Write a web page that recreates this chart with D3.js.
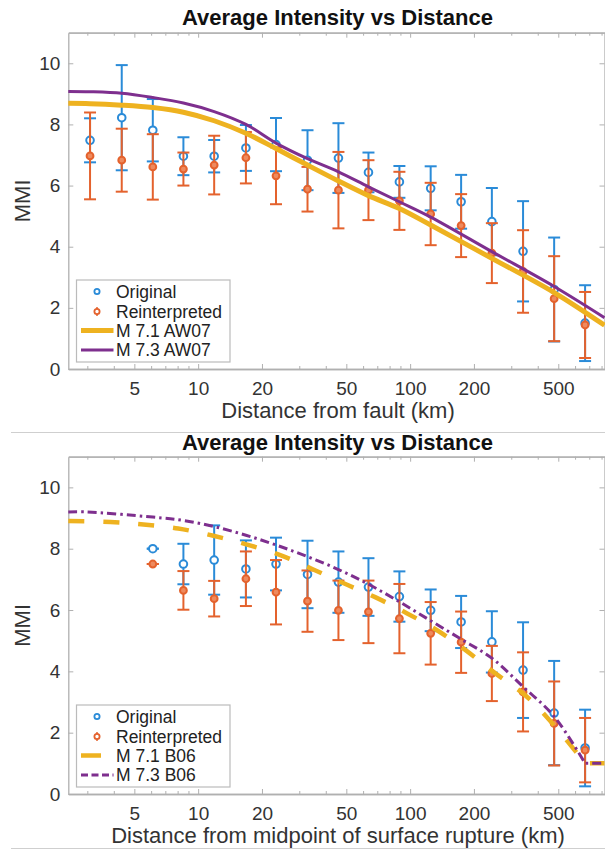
<!DOCTYPE html>
<html>
<head>
<meta charset="utf-8">
<script src="https://cdn.jsdelivr.net/npm/d3@7"></script>
<style>
  body { margin: 0; background: #fff; }
  svg { display: block; font-family: "Liberation Sans", Arial, Helvetica, sans-serif; }
</style>
</head>
<body>
<svg id="chart" width="605" height="850"></svg>
<script>
// distance bins (km), shared by both panels
const binKm = [3.09, 4.36, 6.11, 8.52, 11.9, 16.8, 23.3, 32.8, 45.9, 63.6, 89.0, 125, 174, 243, 341, 478, 669];

// top panel: distance from fault
const origMmi1 = [7.48, 8.22, 7.81, 6.96, 6.96, 7.23, 7.34, 6.83, 6.90, 6.43, 6.12, 5.91, 5.47, 4.82, 3.85, 2.60, 1.50];
const origErr1 = [0.72, 1.72, 1.02, 0.62, 0.53, 0.75, 0.87, 0.98, 1.14, 0.65, 0.52, 0.72, 0.88, 1.10, 1.64, 1.70, 1.24];
const reintMmi1 = [6.97, 6.83, 6.61, 6.54, 6.67, 6.91, 6.32, 5.88, 5.85, 5.85, 5.50, 5.07, 4.69, 3.79, 3.19, 2.30, 1.44];
const reintErr1 = [1.42, 1.03, 1.07, 0.54, 0.96, 0.84, 0.93, 0.73, 1.25, 0.98, 0.95, 1.02, 1.03, 0.98, 1.35, 1.39, 1.08];

// AW07 curves
const awKm = [2.44, 3.09, 4.36, 6.11, 8.52, 11.9, 16.8, 23.3, 32.8, 45.9, 63.6, 89, 125, 243, 478, 826];
const aw71Mmi = [8.69, 8.68, 8.63, 8.55, 8.40, 8.12, 7.71, 7.21, 6.67, 6.15, 5.67, 5.25, 4.71, 3.62, 2.50, 1.43];
const aw73Mmi = [9.08, 9.07, 9.02, 8.88, 8.70, 8.42, 8.00, 7.39, 6.88, 6.45, 5.96, 5.47, 4.97, 3.84, 2.70, 1.68];

// bottom panel: distance from midpoint of rupture (bins 3..17)
const binKm2 = binKm.slice(2);
const origMmi2 = [8.00, 7.50, 7.63, 7.34, 7.50, 7.16, 6.91, 6.75, 6.44, 5.99, 5.61, 4.96, 4.04, 2.64, 1.50];
const origErr2 = [0, 0.66, 1.13, 0.93, 0.86, 1.10, 1.00, 0.94, 0.82, 0.68, 0.85, 1.00, 1.56, 1.70, 1.25];
const reintMmi2 = [7.50, 6.64, 6.37, 7.02, 6.58, 6.29, 5.99, 5.94, 5.72, 5.24, 4.95, 3.93, 3.33, 2.30, 1.43];
const reintErr2 = [0, 0.63, 0.58, 0.89, 1.05, 1.00, 0.97, 1.02, 1.13, 1.02, 1.00, 0.90, 1.29, 1.37, 1.05];

// B06 curves (flat at MMI 1 past the last point)
const b71Km = [2.44, 3.85, 5.52, 8.05, 11.8, 16.7, 24.4, 34.5, 48.3, 68.4, 96.8, 134, 182, 246, 349, 483, 669];
const b71Mmi = [8.90, 8.87, 8.79, 8.66, 8.42, 8.15, 7.79, 7.34, 6.88, 6.42, 5.89, 5.34, 4.70, 3.99, 3.22, 2.20, 1.0];
const b73Km = [2.44, 2.93, 6.11, 8.52, 11.9, 16.8, 23.3, 32.8, 45.9, 63.6, 89, 125, 174, 243, 341, 478, 669];
const b73Mmi = [9.20, 9.20, 9.03, 8.92, 8.72, 8.44, 8.12, 7.74, 7.32, 6.84, 6.27, 5.65, 5.05, 4.43, 3.50, 2.53, 1.0];
const floorMmi = 1.0;

// ticks
const yTicks = [0, 2, 4, 6, 8, 10];
const xTickLabels = [5, 10, 20, 50, 100, 200, 500];
const xMinor = [3, 4, 6, 7, 8, 9, 30, 40, 60, 70, 80, 90, 300, 400, 600, 700, 800];

const FONT = '"Liberation Sans", Arial, Helvetica, sans-serif';
const colors = { orig: "#2a8bd8", reint: "#e4622d", m71: "#eeb220", m73: "#7e2f8e" };
const axisColor = "#b0b0b0";

const svg = d3.select("#chart");
const x = d3.scaleLog().domain([2.44, 826]).range([68.3, 604.5]);
const [xl, xr] = x.range();

function styleAxis(sel) {
  sel.attr("font-family", FONT);
  sel.select(".domain").attr("stroke", axisColor).attr("stroke-width", 1.3);
  sel.selectAll(".tick line").attr("stroke", axisColor).attr("stroke-width", 1);
  sel.selectAll(".tick text").attr("fill", "#333").attr("font-size", 19);
}

function errorBars(g, y, km, mmi, err, color, isOrig) {
  const rows = d3.zip(km, mmi, err);
  const grp = g.append("g").attr("stroke", color).attr("stroke-width", 2).attr("fill", "none");
  const bar = grp.selectAll("g").data(rows).join("g");
  bar.append("line")
    .attr("x1", d => x(d[0])).attr("x2", d => x(d[0]))
    .attr("y1", d => y(d[1] - d[2])).attr("y2", d => y(d[1] + d[2]));
  bar.append("line")
    .attr("x1", d => x(d[0]) - 6).attr("x2", d => x(d[0]) + 6)
    .attr("y1", d => y(d[1] + d[2])).attr("y2", d => y(d[1] + d[2]));
  bar.append("line")
    .attr("x1", d => x(d[0]) - 6).attr("x2", d => x(d[0]) + 6)
    .attr("y1", d => y(d[1] - d[2])).attr("y2", d => y(d[1] - d[2]));
  bar.append("circle")
    .attr("cx", d => x(d[0])).attr("cy", d => y(d[1]))
    .attr("r", isOrig ? 3.8 : 3.4)
    .attr("fill", isOrig ? "#fff" : "#ee8a5e");
}

function drawPanel(p) {
  const g = svg.append("g");
  const y = d3.scaleLinear().domain([0, 11]).range([p.y0, p.y1]);

  // axes (ticks point inward)
  g.append("g").attr("transform", `translate(0,${p.y0})`)
    .call(d3.axisBottom(x).tickValues(xTickLabels).tickFormat(d3.format("d"))
      .tickSize(-5).tickSizeOuter(0).tickPadding(13))
    .call(styleAxis);
  g.append("g").attr("transform", `translate(0,${p.y0})`)
    .call(d3.axisBottom(x).tickValues(xMinor).tickFormat("").tickSize(-3).tickSizeOuter(0))
    .call(styleAxis);
  g.append("g").attr("transform", `translate(0,${p.y1})`)
    .call(d3.axisTop(x).tickValues(xTickLabels).tickFormat("").tickSize(-5).tickSizeOuter(0))
    .call(styleAxis);
  g.append("g").attr("transform", `translate(0,${p.y1})`)
    .call(d3.axisTop(x).tickValues(xMinor).tickFormat("").tickSize(-3).tickSizeOuter(0))
    .call(styleAxis);
  g.append("g").attr("transform", `translate(${xl},0)`)
    .call(d3.axisLeft(y).tickValues(yTicks).tickSize(-5).tickSizeOuter(0).tickPadding(8))
    .call(styleAxis);
  g.append("g").attr("transform", `translate(${xr},0)`)
    .call(d3.axisRight(y).tickValues(yTicks).tickFormat("").tickSize(-5).tickSizeOuter(0))
    .call(styleAxis);

  // data
  errorBars(g, y, p.km, p.orig, p.origErr, colors.orig, true);
  errorBars(g, y, p.km, p.reint, p.reintErr, colors.reint, false);

  p.curves.forEach(c => {
    const line = d3.line().x(d => x(d[0])).y(d => y(d[1])).curve(d3.curveCatmullRom.alpha(0.5));
    let path = line(d3.zip(c.km, c.mmi));
    if (c.floor != null) path += `L${xr},${y(c.floor)}`;
    g.append("path").attr("d", path)
      .attr("fill", "none").attr("stroke", c.color)
      .attr("stroke-width", c.width)
      .attr("stroke-dasharray", c.dash || null);
  });

  // title and labels
  g.append("text").attr("x", 337.5).attr("y", p.titleY)
    .attr("text-anchor", "middle").attr("font-size", 22).attr("font-weight", "bold")
    .attr("fill", "#111").text("Average Intensity vs Distance");
  g.append("text").attr("x", 338).attr("y", p.y0 + 49)
    .attr("text-anchor", "middle").attr("font-size", 22).attr("fill", "#333")
    .text(p.xLabel);
  g.append("text")
    .attr("transform", `translate(30,${(p.y0 + p.y1) / 2}) rotate(-90)`)
    .attr("text-anchor", "middle").attr("font-size", 22).attr("fill", "#333")
    .text("MMI");

  // legend
  const L = g.append("g").attr("transform", `translate(76.5,${p.legendTop})`);
  L.append("rect").attr("width", 153.5).attr("height", 82)
    .attr("fill", "#fff").attr("stroke", "#bbb").attr("stroke-width", 1.2);
  const rowY = [11.5, 31.5, 50.5, 70];
  const names = ["Original", "Reinterpreted", p.curves[0].name, p.curves[1].name];
  L.append("circle").attr("cx", 20.5).attr("cy", rowY[0]).attr("r", 2.6)
    .attr("fill", "none").attr("stroke", colors.orig).attr("stroke-width", 1.8);
  L.append("line").attr("x1", 20.5).attr("x2", 20.5).attr("y1", rowY[1] - 4.5).attr("y2", rowY[1] + 4.5)
    .attr("stroke", colors.reint).attr("stroke-width", 1.5);
  L.append("circle").attr("cx", 20.5).attr("cy", rowY[1]).attr("r", 2.6)
    .attr("fill", "#fff").attr("stroke", colors.reint).attr("stroke-width", 1.8);
  p.curves.forEach((c, i) => {
    L.append("line").attr("x1", 4.5).attr("x2", 37).attr("y1", rowY[2 + i]).attr("y2", rowY[2 + i])
      .attr("stroke", c.color).attr("stroke-width", c.width)
      .attr("stroke-dasharray", c.legendDash || null);
  });
  L.selectAll("text.leg").data(names).join("text").attr("class", "leg")
    .attr("x", 39.5).attr("y", (d, i) => rowY[i] + 6.3)
    .attr("font-size", 17.5).attr("fill", "#222").text(d => d);
}

drawPanel({
  y0: 369, y1: 32.7, titleY: 25, legendTop: 280,
  xLabel: "Distance from fault (km)",
  km: binKm, orig: origMmi1, origErr: origErr1, reint: reintMmi1, reintErr: reintErr1,
  curves: [
    { name: "M 7.1 AW07", km: awKm, mmi: aw71Mmi, color: colors.m71, width: 5 },
    { name: "M 7.3 AW07", km: awKm, mmi: aw73Mmi, color: colors.m73, width: 3 }
  ]
});

drawPanel({
  y0: 794, y1: 456.7, titleY: 449.5, legendTop: 705,
  xLabel: "Distance from midpoint of surface rupture (km)",
  km: binKm2, orig: origMmi2, origErr: origErr2, reint: reintMmi2, reintErr: reintErr2,
  curves: [
    { name: "M 7.1 B06", km: b71Km, mmi: b71Mmi, floor: floorMmi, color: colors.m71, width: 4.5,
      dash: "16,19", legendDash: "20,40" },
    { name: "M 7.3 B06", km: b73Km, mmi: b73Mmi, floor: floorMmi, color: colors.m73, width: 3,
      dash: "9,4,2.5,4", legendDash: "7,3.5" }
  ]
});

// separators between the two figures
[432.5, 848.5].forEach(yy => {
  svg.append("line").attr("x1", 11).attr("x2", 605).attr("y1", yy).attr("y2", yy)
    .attr("stroke", "#cfcfcf").attr("stroke-width", 1.2);
});
</script>
</body>
</html>
